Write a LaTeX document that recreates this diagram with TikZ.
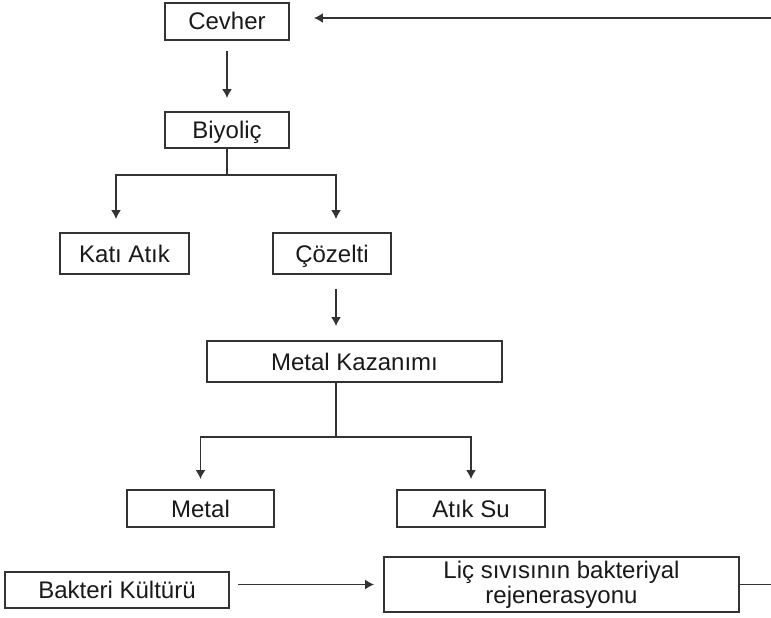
\documentclass[tikz,border=0pt]{standalone}
\usepackage{fontspec}
\setmainfont{Liberation Sans}
\usetikzlibrary{arrows.meta}
\definecolor{linegray}{HTML}{333333}
\tikzset{
  procbox/.style={draw=linegray, line width=1.9bp, fill=white, inner sep=0pt,
    align=center, text=black!90, font=\fontsize{24bp}{25bp}\selectfont},
  onebox/.style={procbox, text height=19bp, text depth=2bp},
  link/.style={draw=linegray, line width=1.5bp},
  flow/.style={link, -{Latex[length=9bp,width=10bp]}},
}
\newcommand{\procnode}[6]{\node[onebox, minimum width=#4bp, minimum height=#5bp] (#1) at (#2,#3) {#6};}

\begin{document}
\begin{tikzpicture}[x=1bp,y=-1bp]
\useasboundingbox (0,0) rectangle (771,618);
% boxes
\procnode{cevher}{227}{21.5}{124}{37}{Cevher}
\procnode{biyolic}{227}{130}{124}{36}{Biyoliç}
\procnode{kati}{124.5}{253.5}{129}{41}{Katı Atık}
\procnode{cozelti}{332}{253.5}{118}{41}{Çözelti}
\procnode{metalk}{354.5}{361.5}{295}{41}{Metal Kazanımı}
\procnode{metal}{200.5}{508.5}{147}{37}{Metal}
\procnode{atiksu}{471}{508.5}{148}{37}{Atık Su}
\procnode{bakteri}{117}{590}{224}{36}{Bakteri Kültürü}
\node[procbox, minimum width=355bp, minimum height=55bp] (regen) at (561.5,584.5) {Liç sıvısının bakteriyal\\rejenerasyonu};
% split points and loose ends
\coordinate (split1) at (227,175);
\coordinate (split2) at (336,437);
\coordinate (rettop) at (771,18);
\coordinate (retbot) at (771,584.5);
% arrows
\draw[flow] ([yshift=-10bp]cevher.south) -- ([yshift=13bp]biyolic.north);
\draw[link] (biyolic.south) -- (split1);
\draw[flow] (split1) -| ([xshift=-8.5bp,yshift=13bp]kati.north);
\draw[flow] (split1) -| ([xshift=4bp,yshift=13bp]cozelti.north);
\draw[flow] ([xshift=4bp,yshift=-14bp]cozelti.south) -- ([xshift=4bp,yshift=14bp]cozelti.south |- metalk.north);
\draw[link] (metalk.south -| split2) -- (split2);
\draw[flow] (split2) -| ([yshift=10bp]metal.north);
\draw[flow] (split2) -| ([yshift=10bp]atiksu.north);
\draw[flow, shorten <=8bp, shorten >=9bp] (regen.west -| bakteri.east) -- (regen.west);
\draw[link] (regen.east) -- (retbot);
\draw[flow, shorten >=24bp] (rettop) -- (rettop -| cevher.east);
\end{tikzpicture}
\end{document}
